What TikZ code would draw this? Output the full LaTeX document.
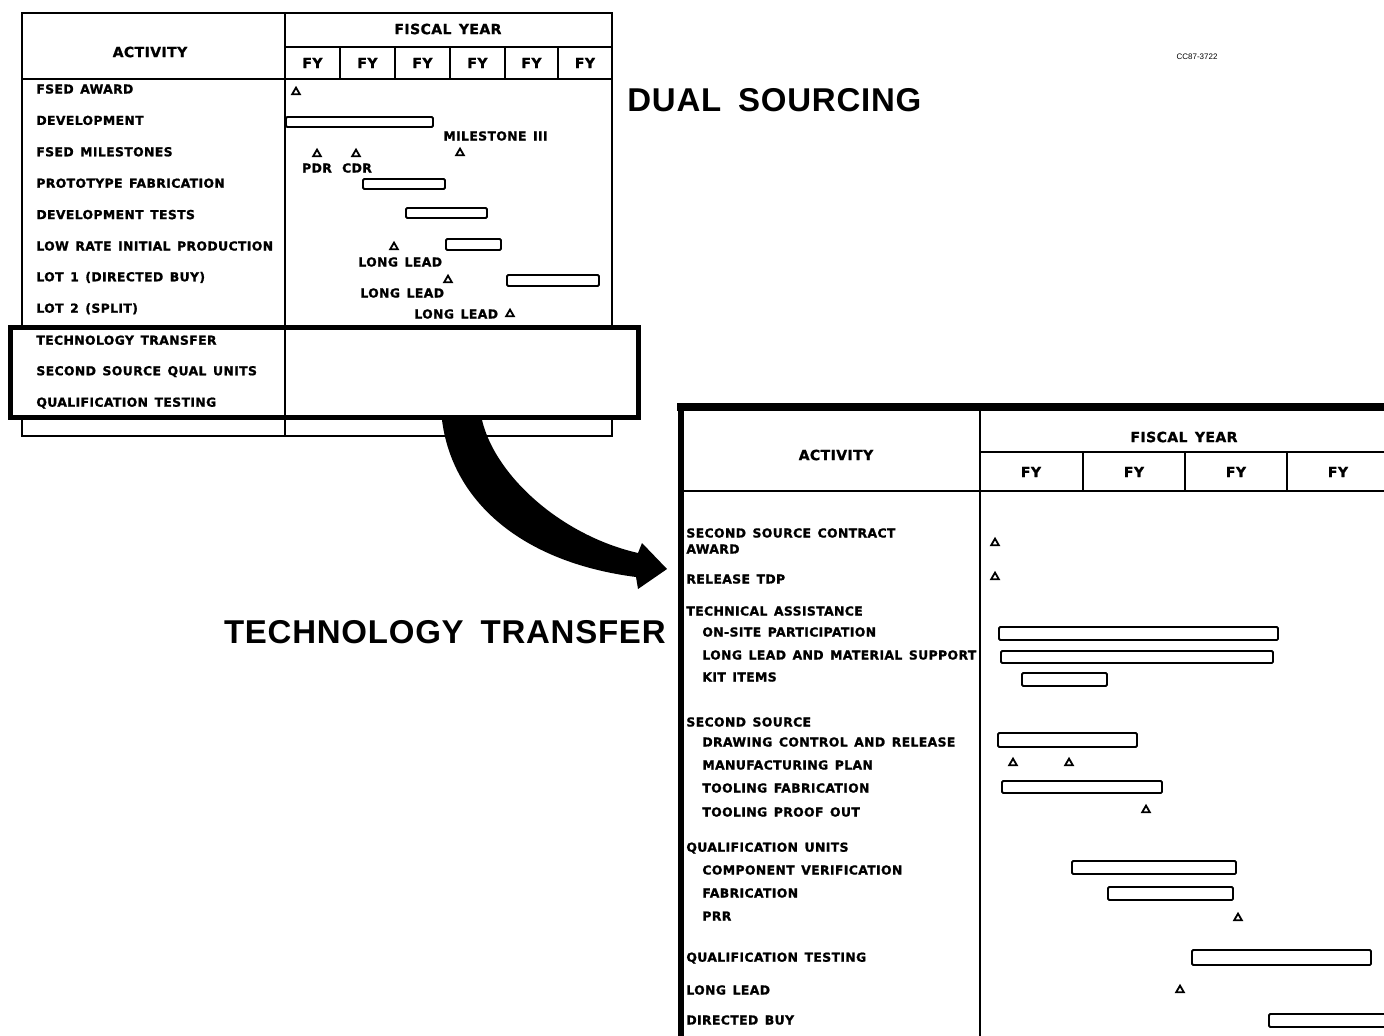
\documentclass[tikz,border=0pt]{standalone}
\usepackage{fontspec}
\usetikzlibrary{shapes.geometric}
\setmainfont{DejaVu Sans}
\newfontfamily\lblfont[LetterSpace=3,WordSpace=1.4,BoldFeatures={FakeBold=1.2}]{DejaVu Sans}
\newfontfamily\bigfont[LetterSpace=2.3,WordSpace=1.7]{Liberation Sans}
\newfontfamily\smallfont{Liberation Sans}
\tikzset{
  lbl/.style={anchor=west, inner sep=0pt, font=\lblfont\bfseries\fontsize{6.2}{7}\selectfont},
  clbl/.style={inner sep=0pt, font=\lblfont\bfseries\fontsize{6.2}{7}\selectfont},
  hdr/.style={inner sep=0pt, font=\lblfont\bfseries\fontsize{7}{8}\selectfont},
  bigl/.style={inner sep=0pt, font=\bigfont\bfseries\fontsize{16.5}{18}\selectfont},
  bar/.style={draw, line width=0.95pt, rounded corners=0.6pt},
  tri/.style={draw, regular polygon, regular polygon sides=3, line width=0.9pt, minimum size=4.4pt, inner sep=0pt},
  gridl/.style={line width=0.85pt},
  hframe/.style={line width=2.5pt}
}
\begin{document}
\begin{tikzpicture}[x=0.5pt,y=-0.5pt]
\useasboundingbox (0,0) rectangle (1384,1035);
\clip (0,0) rectangle (1384,1035);
\fill[white] (0,0) rectangle (1384,1035);

% ---------- left chart (dual sourcing) ----------
\draw[gridl] (22,13) rectangle (612,436);
\draw[gridl] (285,13) -- (285,436);
\draw[gridl] (285,47) -- (612,47);
\draw[gridl] (22,79) -- (612,79);
\foreach \xx in {340,395,450,505,558} \draw[gridl] (\xx,47) -- (\xx,79);

\node[hdr] (lact) at (150,52) {ACTIVITY};
\node[hdr] (lfy) at (448,29) {FISCAL YEAR};
\foreach \cx [count=\i] in {312.5,367.5,422.5,477.5,531.5,585}
  \node[hdr] (lfy\i) at (\cx,63) {FY};

% highlight box
\draw[hframe, fill=white] (10,327) rectangle (638,417);
\draw[gridl] (285,329) -- (285,415);

\foreach \t [count=\i] in {{FSED AWARD},{DEVELOPMENT},{FSED MILESTONES},{PROTOTYPE FABRICATION},{DEVELOPMENT TESTS},{LOW RATE INITIAL PRODUCTION},{LOT 1 (DIRECTED BUY)},{LOT 2 (SPLIT)},{TECHNOLOGY TRANSFER},{SECOND SOURCE QUAL UNITS},{QUALIFICATION TESTING}}
  \node[lbl] (lrow\i) at (36,{89+31.4*(\i-1)}) {\t};

\node[tri] (t1) at (296,92) {};
\draw[bar] (286,117) rectangle (433,127);
\node[lbl] (ms3) at (443,136) {MILESTONE III};
\node[tri] (t2) at (460,153) {};
\node[tri] (t3) at (317,154) {};
\node[tri] (t4) at (356,154) {};
\node[clbl] (pdr) at (317,168) {PDR};
\node[clbl] (cdr) at (357,168) {CDR};
\draw[bar] (363,179) rectangle (445,189);
\draw[bar] (406,208) rectangle (487,218);
\node[tri] (t5) at (394,247) {};
\node[lbl] (ll1) at (358,262) {LONG LEAD};
\draw[bar] (446,239) rectangle (501,250);
\node[tri] (t6) at (448,280) {};
\node[lbl] (ll2) at (360,293) {LONG LEAD};
\draw[bar] (507,275) rectangle (599,286);
\node[lbl] (ll3) at (414,314) {LONG LEAD};
\node[tri] (t7) at (510,314) {};

% ---------- big arrow ----------
\fill (442,420) .. controls (452,500) and (520,562) .. (636,577)
  -- (638,589) -- (667,569) -- (642,543) -- (638,553)
  .. controls (560,535) and (495,475) .. (482,420) -- cycle;

% ---------- labels ----------
\node[bigl, anchor=west] (dual) at (627,100) {DUAL SOURCING};
\node[bigl, anchor=east] (tt) at (666,632) {TECHNOLOGY TRANSFER};
\node[inner sep=0pt, font=\smallfont\fontsize{4}{5}\selectfont] (code) at (1197,57) {CC87-3722};

% ---------- right chart (technology transfer) ----------
\draw[line width=4pt] (677,407) -- (1400,407);
\draw[line width=3pt] (681,405) -- (681,1040);
\draw[gridl] (980,409) -- (980,1040);
\draw[gridl] (980,452) -- (1400,452);
\draw[gridl] (681,491) -- (1400,491);
\foreach \xx in {1083,1185,1287} \draw[gridl] (\xx,452) -- (\xx,491);

\node[hdr] (ract) at (836,455) {ACTIVITY};
\node[hdr] (rfy) at (1184,437) {FISCAL YEAR};
\foreach \cx [count=\i] in {1031,1134,1236,1338}
  \node[hdr] (rfy\i) at (\cx,472) {FY};

\node[lbl] (r1) at (686,533) {SECOND SOURCE CONTRACT};
\node[lbl] (r1b) at (686,549) {AWARD};
\node[lbl] (r2) at (686,579) {RELEASE TDP};
\node[lbl] (r3) at (686,611) {TECHNICAL ASSISTANCE};
\node[lbl] (r3a) at (702,632) {ON-SITE PARTICIPATION};
\node[lbl] (r3b) at (702,655) {LONG LEAD AND MATERIAL SUPPORT};
\node[lbl] (r3c) at (702,677) {KIT ITEMS};
\node[lbl] (r4) at (686,722) {SECOND SOURCE};
\node[lbl] (r4a) at (702,742) {DRAWING CONTROL AND RELEASE};
\node[lbl] (r4b) at (702,765) {MANUFACTURING PLAN};
\node[lbl] (r4c) at (702,788) {TOOLING FABRICATION};
\node[lbl] (r4d) at (702,812) {TOOLING PROOF OUT};
\node[lbl] (r5) at (686,848) {QUALIFICATION UNITS};
\node[lbl] (r5a) at (702,870) {COMPONENT VERIFICATION};
\node[lbl] (r5b) at (702,893) {FABRICATION};
\node[lbl] (r5c) at (702,916) {PRR};
\node[lbl] (r6) at (686,958) {QUALIFICATION TESTING};
\node[lbl] (r7) at (686,990) {LONG LEAD};
\node[lbl] (r8) at (686,1020) {DIRECTED BUY};

\node[tri] (rt1) at (995,543) {};
\node[tri] (rt2) at (995,577) {};
\draw[bar] (999,627) rectangle (1278,640);
\draw[bar] (1001,651) rectangle (1273,663);
\draw[bar] (1022,673) rectangle (1107,686);
\draw[bar] (998,733) rectangle (1137,747);
\node[tri] (rt3) at (1013,763) {};
\node[tri] (rt4) at (1069,763) {};
\draw[bar] (1002,781) rectangle (1162,793);
\node[tri] (rt5) at (1146,810) {};
\draw[bar] (1072,861) rectangle (1236,874);
\draw[bar] (1108,887) rectangle (1233,900);
\node[tri] (rt6) at (1238,918) {};
\draw[bar] (1192,950) rectangle (1371,965);
\node[tri] (rt7) at (1180,990) {};
\draw[bar] (1269,1014) rectangle (1400,1027);
\end{tikzpicture}
\end{document}
